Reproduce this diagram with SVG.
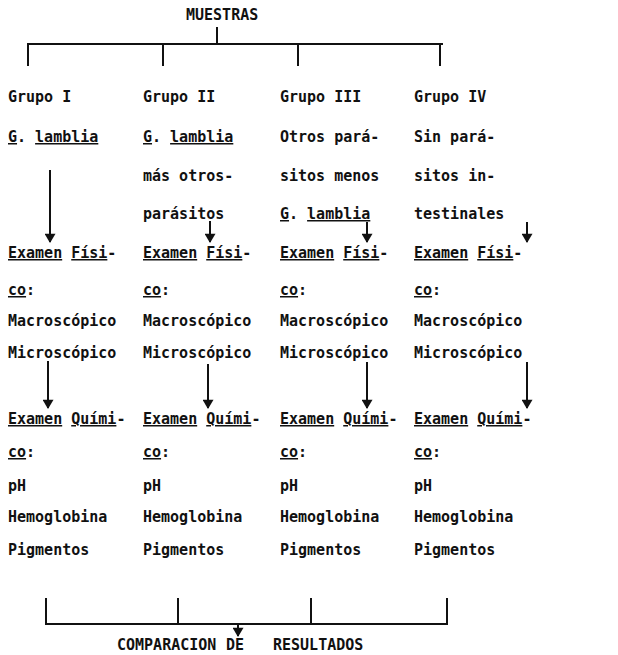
<svg xmlns="http://www.w3.org/2000/svg" width="618" height="655" viewBox="0 0 618 655">
<defs>
<style>
text{font-family:"DejaVu Sans Mono","Liberation Mono",monospace;font-weight:bold;font-size:15px;fill:#111;}
.u{text-decoration:underline;}
.ln{stroke:#111;stroke-width:2;fill:none;}
</style>
<marker id="ah" viewBox="0 0 10 12" refX="9" refY="6" markerWidth="6" markerHeight="5.5" orient="auto" markerUnits="strokeWidth">
<path d="M0,0 L10,6 L0,12 z" fill="#111"/>
</marker>
</defs>
<rect width="618" height="655" fill="#fff"/>
<g id="muestras"><text x="186" y="20">MUESTRAS</text></g>
<g id="connectors">
<path class="ln" d="M217,27 V44 M27,44 H443 M28,44 V66 M163,44 V66 M298,44 V66 M440,44 V66"/>
<path class="ln" d="M50,170 V242" marker-end="url(#ah)"/>
<path class="ln" d="M210,221 V242" marker-end="url(#ah)"/>
<path class="ln" d="M367,222 V242" marker-end="url(#ah)"/>
<path class="ln" d="M527,222 V242" marker-end="url(#ah)"/>
<path class="ln" d="M48,361 V408" marker-end="url(#ah)"/>
<path class="ln" d="M208,364 V408" marker-end="url(#ah)"/>
<path class="ln" d="M367,362 V408" marker-end="url(#ah)"/>
<path class="ln" d="M527,362 V408" marker-end="url(#ah)"/>
<path class="ln" d="M46,598 V624 H447 V598 M178,598 V624 M311,598 V624"/>
<path class="ln" d="M238,624 V636" marker-end="url(#ah)"/>
</g>
<g id="grupo1">
<text x="8" y="102">Grupo I</text>
<text x="8" y="142"><tspan class="u">G</tspan>. <tspan class="u">lamblia</tspan></text>
<text x="8" y="258"><tspan class="u">Examen</tspan> <tspan class="u">Físi</tspan>-</text>
<text x="8" y="295"><tspan class="u">co</tspan>:</text>
<text x="8" y="326">Macroscópico</text>
<text x="8" y="358">Microscópico</text>
<text x="8" y="424"><tspan class="u">Examen</tspan> <tspan class="u">Quími</tspan>-</text>
<text x="8" y="457"><tspan class="u">co</tspan>:</text>
<text x="8" y="491">pH</text>
<text x="8" y="522">Hemoglobina</text>
<text x="8" y="555">Pigmentos</text>
</g>
<g id="grupo2">
<text x="143" y="102">Grupo II</text>
<text x="143" y="142"><tspan class="u">G</tspan>. <tspan class="u">lamblia</tspan></text>
<text x="143" y="181">más otros-</text>
<text x="143" y="219">parásitos</text>
<text x="143" y="258"><tspan class="u">Examen</tspan> <tspan class="u">Físi</tspan>-</text>
<text x="143" y="295"><tspan class="u">co</tspan>:</text>
<text x="143" y="326">Macroscópico</text>
<text x="143" y="358">Microscópico</text>
<text x="143" y="424"><tspan class="u">Examen</tspan> <tspan class="u">Quími</tspan>-</text>
<text x="143" y="457"><tspan class="u">co</tspan>:</text>
<text x="143" y="491">pH</text>
<text x="143" y="522">Hemoglobina</text>
<text x="143" y="555">Pigmentos</text>
</g>
<g id="grupo3">
<text x="280" y="102">Grupo III</text>
<text x="280" y="142">Otros pará-</text>
<text x="280" y="181">sitos menos</text>
<text x="280" y="219"><tspan class="u">G</tspan>. <tspan class="u">lamblia</tspan></text>
<text x="280" y="258"><tspan class="u">Examen</tspan> <tspan class="u">Físi</tspan>-</text>
<text x="280" y="295"><tspan class="u">co</tspan>:</text>
<text x="280" y="326">Macroscópico</text>
<text x="280" y="358">Microscópico</text>
<text x="280" y="424"><tspan class="u">Examen</tspan> <tspan class="u">Quími</tspan>-</text>
<text x="280" y="457"><tspan class="u">co</tspan>:</text>
<text x="280" y="491">pH</text>
<text x="280" y="522">Hemoglobina</text>
<text x="280" y="555">Pigmentos</text>
</g>
<g id="grupo4">
<text x="414" y="102">Grupo IV</text>
<text x="414" y="142">Sin pará-</text>
<text x="414" y="181">sitos in-</text>
<text x="414" y="219">testinales</text>
<text x="414" y="258"><tspan class="u">Examen</tspan> <tspan class="u">Físi</tspan>-</text>
<text x="414" y="295"><tspan class="u">co</tspan>:</text>
<text x="414" y="326">Macroscópico</text>
<text x="414" y="358">Microscópico</text>
<text x="414" y="424"><tspan class="u">Examen</tspan> <tspan class="u">Quími</tspan>-</text>
<text x="414" y="457"><tspan class="u">co</tspan>:</text>
<text x="414" y="491">pH</text>
<text x="414" y="522">Hemoglobina</text>
<text x="414" y="555">Pigmentos</text>
</g>
<g id="resultados">
<text x="117" y="650">COMPARACION</text>
<text x="226" y="650">DE</text>
<text x="273" y="650">RESULTADOS</text>
</g>
</svg>
